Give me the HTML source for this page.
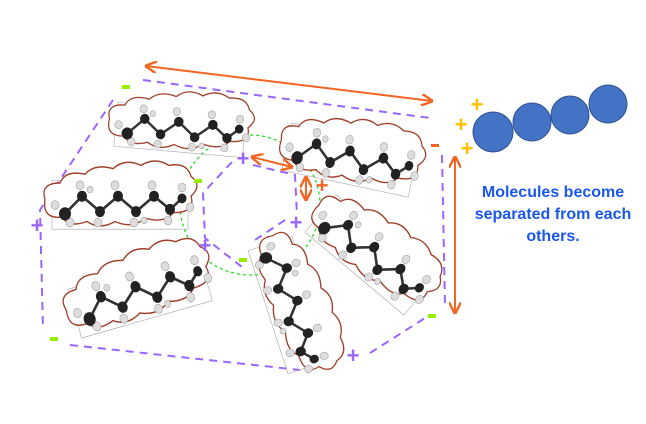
<!DOCTYPE html>
<html><head><style>body{margin:0;background:#fff}svg{display:block}</style></head><body>
<svg width="646" height="424" viewBox="0 0 646 424" xmlns="http://www.w3.org/2000/svg">
<defs>
<marker id="ah" viewBox="0 0 10 10" refX="9" refY="5" markerWidth="6" markerHeight="6" orient="auto-start-reverse"><path d="M0,0 L10,5 L0,10" fill="none" stroke="#f26522" stroke-width="2"/></marker>
<g id="mol">
<rect x="-68" y="-22" width="136" height="44" fill="none" stroke="#aaa" stroke-width="0.6"/>
<path d="M-75,-5 q-5,-15 15,-15 q5,-12 25,-8 q10,-10 28,-5 q12,-10 28,-3 q14,-8 28,0 q18,-3 22,10 q12,8 0,18 q5,15 -18,15 q-8,10 -28,5 q-12,10 -30,3 q-15,8 -28,0 q-18,6 -25,-4 q-20,2 -17,-16z" fill="#fff" stroke="#a0412d" stroke-width="1.3"/>
<polyline points="-55,8 -38,-8 -20,6 -2,-8 16,6 34,-8 50,4 62,-6" fill="none" stroke="#333" stroke-width="2.5"/>
<g fill="#ddd" stroke="#999" stroke-width="0.5">
<circle cx="-65" cy="0" r="4"/><circle cx="-50" cy="16" r="4"/><circle cx="-40" cy="-18" r="4"/><circle cx="-22" cy="16" r="4"/><circle cx="-5" cy="-18" r="4"/><circle cx="14" cy="16" r="4"/><circle cx="32" cy="-18" r="4"/><circle cx="48" cy="14" r="4"/><circle cx="62" cy="-16" r="4"/><circle cx="70" cy="2" r="4"/><circle cx="-30" cy="-14" r="3"/><circle cx="24" cy="14" r="3"/>
</g>
<g fill="#222"><circle cx="-55" cy="8" r="6"/><circle cx="-38" cy="-8" r="5"/><circle cx="-20" cy="6" r="5"/><circle cx="-2" cy="-8" r="5"/><circle cx="16" cy="6" r="5"/><circle cx="34" cy="-8" r="5"/><circle cx="50" cy="4" r="5"/><circle cx="62" cy="-6" r="4.5"/></g>
</g>
</defs>
<g stroke="#9966ff" stroke-width="2" stroke-dasharray="8,6" fill="none">
<polyline points="143,80 430,118"/>
<polyline points="113,100 40,210 43,330"/>
<polyline points="70,345 300,370"/>
<polyline points="370,353 425,318"/>
<polyline points="442,155 445,305"/>
<polyline points="232,162 203,193 205,238 242,267"/>
<polyline points="253,165 295,175 297,215"/>
<polyline points="285,220 255,240"/>
</g>
<circle cx="250" cy="205" r="70" fill="none" stroke="#22dd22" stroke-width="1.3" stroke-dasharray="3,3"/>
<use href="#mol" transform="translate(180,130) rotate(5) scale(0.95,1)"/>
<use href="#mol" transform="translate(120,205) rotate(0) scale(1,1.1)"/>
<use href="#mol" transform="translate(140,295) rotate(-16) scale(1,1.15)"/>
<use href="#mol" transform="translate(350,160) rotate(12) scale(0.95,1.1)"/>
<use href="#mol" transform="translate(370,255) rotate(40) scale(0.95,1.1)"/>
<use href="#mol" transform="translate(290,305) rotate(72) scale(0.95,1.05)"/>
<g stroke="#f26522" stroke-width="2" fill="none" marker-start="url(#ah)" marker-end="url(#ah)">
<line x1="146" y1="66" x2="432" y2="101"/>
<line x1="252" y1="157" x2="292" y2="167"/>
<line x1="306" y1="177" x2="306" y2="200"/>
<line x1="455" y1="157" x2="455" y2="313"/>
</g>
<g fill="#4472c4" stroke="#2f528f" stroke-width="1">
<circle cx="608" cy="104" r="19"/><circle cx="570" cy="115" r="19"/><circle cx="532" cy="122" r="19"/><circle cx="493" cy="132" r="20"/>
</g>
<g font-family="Liberation Sans, sans-serif" font-weight="bold" text-anchor="middle">
<g fill="#9966ff" font-size="22"><text x="37" y="233">+</text><text x="243" y="166">+</text><text x="296" y="230">+</text><text x="205" y="253">+</text><text x="353" y="363">+</text></g>
<g fill="#ffc000" font-size="22"><text x="477" y="112">+</text><text x="461" y="132">+</text><text x="467" y="156">+</text></g>
<text x="322" y="193" fill="#f26522" font-size="22">+</text>
</g>
<g fill="#99ee00"><rect x="122" y="85" width="8" height="4"/><rect x="194" y="179" width="8" height="4"/><rect x="239" y="258" width="8" height="4"/><rect x="50" y="337" width="8" height="4"/><rect x="428" y="314" width="8" height="4"/></g>
<rect x="431" y="144" width="8" height="3" fill="#f26522"/>
<g font-family="Liberation Sans, sans-serif" font-weight="bold" font-size="16" fill="#1a56f0" text-anchor="middle">
<text x="553" y="197">Molecules become</text>
<text x="553" y="219">separated from each</text>
<text x="553" y="241">others.</text>
</g>
</svg>
</body></html>
